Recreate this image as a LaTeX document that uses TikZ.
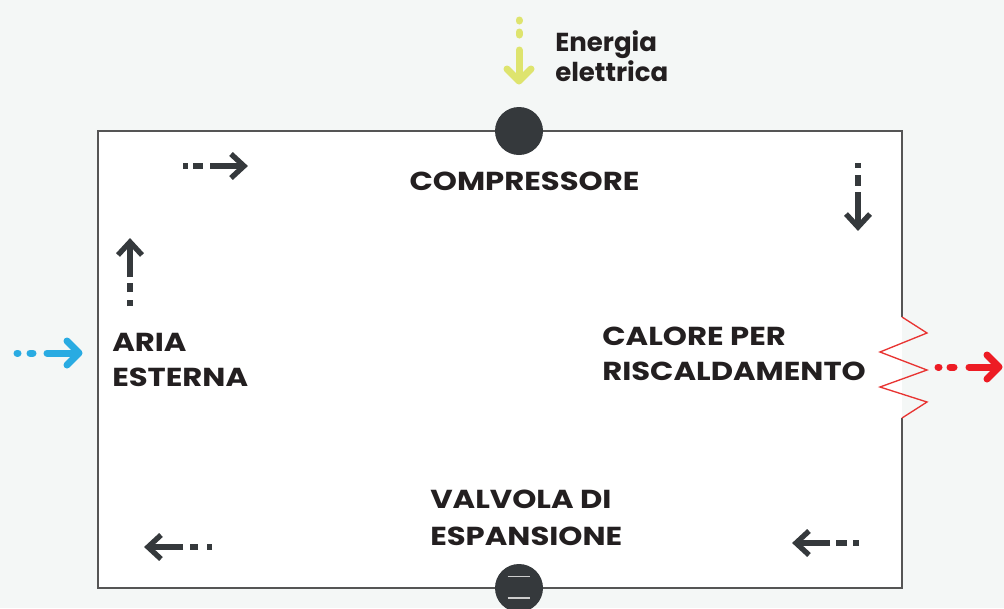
\documentclass[tikz,border=0pt]{standalone}
\usepackage{fontspec}
\setmainfont{Poppins}
\newfontfamily\capsfont{Poppins}[FakeStretch=1.18]
\definecolor{bgc}{RGB}{244,247,246}
\definecolor{boxc}{RGB}{85,85,85}
\definecolor{darkc}{RGB}{53,57,60}
\definecolor{txtc}{RGB}{35,31,32}
\definecolor{bluec}{RGB}{41,171,226}
\definecolor{redc}{RGB}{237,28,36}
\definecolor{zigc}{RGB}{232,52,50}
\definecolor{yelc}{RGB}{222,228,110}
\definecolor{linec}{RGB}{205,205,205}
\begin{document}
\begin{tikzpicture}[x=0.75pt,y=-0.75pt,
  lbl/.style={inner sep=0pt, anchor=north west, align=left, text=txtc,
    font=\capsfont\bfseries\fontsize{19.5}{26.25}\selectfont},
  darr/.style={draw=darkc, line width=4pt, line cap=butt},
  dhead/.style={draw=darkc, line width=4pt, line cap=butt, line join=miter},
  carr/.style={line width=5.25pt, line cap=round, line join=round},
  valve/.style={circle, fill=darkc, minimum size=36pt, inner sep=0pt}]
\useasboundingbox (0,0) rectangle (1004,608);
\fill[bgc] (0,0) rectangle (1004,608);
% box
\fill[white] (98,131) rectangle (902,588);
\coordinate (z0) at (902,317);
\coordinate (z6) at (902,418);
\draw[boxc, line width=1.5pt] (z0) -- (902,131) -- (98,131) -- (98,588) -- (902,588) -- (z6);
\draw[zigc, line width=1pt, line join=miter] (z0) -- (927,333) -- (880,352) -- (927,370) -- (880,387) -- (927,402) -- (z6);
% nodes
\node[valve] (comp) at (519,131) {};
\node[valve] (valv) at (519,588) {};
\draw[linec, line width=1.2pt] ([xshift=-8.5pt,yshift=8.5pt]valv.center) -- ([xshift=8.5pt,yshift=8.5pt]valv.center);
\draw[linec, line width=1.2pt] ([xshift=-8.5pt,yshift=-7.5pt]valv.center) -- ([xshift=8.5pt,yshift=-7.5pt]valv.center);
% labels
\node[lbl, anchor=north] (tcomp) at (524.5,172) {COMPRESSORE};
\node[lbl] (taria) at (112,333) {ARIA\\ESTERNA};
\node[lbl] (tcal) at (602,327) {CALORE PER\\RISCALDAMENTO};
\node[lbl, font=\capsfont\bfseries\fontsize{19.5}{27.5}\selectfont] (tvalv) at (430,490) {VALVOLA DI\\ESPANSIONE};
\node[lbl, font=\bfseries\fontsize{19.5}{22.5}\selectfont] (tene) at (555,30) {Energia\\elettrica};
% dark flow arrows
% top-left, pointing right
\draw[darr] (183,166) -- (188,166);
\draw[darr] (193,166) -- (203,166);
\draw[darr] (210,166) -- (242,166);
\draw[dhead] (231,154) -- (244,166) -- (231,178);
% left, pointing up
\draw[darr] (130,306) -- (130,300);
\draw[darr] (130,292) -- (130,283);
\draw[darr] (130,277) -- (130,244);
\draw[dhead] (118,255) -- (130,242) -- (142,255);
% right, pointing down
\draw[darr] (858,163) -- (858,168);
\draw[darr] (858,175) -- (858,186);
\draw[darr] (858,192) -- (858,225);
\draw[dhead] (846,214) -- (858,227) -- (870,214);
% bottom-left, pointing left
\draw[darr] (212,547) -- (207,547);
\draw[darr] (198,547) -- (190,547);
\draw[darr] (183,547) -- (150,547);
\draw[dhead] (161,535) -- (148,547) -- (161,559);
% bottom-right, pointing left
\draw[darr] (859,543) -- (853,543);
\draw[darr] (847,543) -- (836,543);
\draw[darr] (830,543) -- (798,543);
\draw[dhead] (809,531) -- (796,543) -- (809,555);
% coloured arrows
\draw[carr, bluec] (17,353) -- (18,353);
\draw[carr, bluec] (30,353) -- (33,353);
\draw[carr, bluec] (47,353) -- (78,353);
\draw[carr, bluec] (67,341) -- (79,353) -- (67,365);
\draw[carr, redc] (938,367) -- (939,367);
\draw[carr, redc] (950,367) -- (954,367);
\draw[carr, redc] (969,367) -- (998,367);
\draw[carr, redc] (987,355) -- (999,367) -- (987,379);
\draw[carr, yelc] (519,20) -- (519,21);
\draw[carr, yelc] (519,32) -- (519,35);
\draw[carr, yelc] (519,50) -- (519,80);
\draw[carr, yelc] (507,69) -- (519,81) -- (531,69);
\end{tikzpicture}
\end{document}
